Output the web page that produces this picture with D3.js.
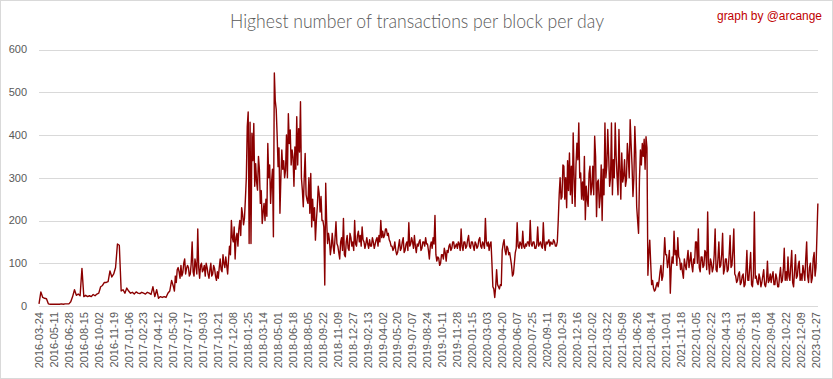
<!DOCTYPE html>
<html><head><meta charset="utf-8">
<script src="https://cdn.jsdelivr.net/npm/d3@7"></script>
<style>body{margin:0;background:#fff}svg{display:block}</style>
</head><body><svg id="c" width="833" height="379"></svg>
<script>
const title = "Highest number of transactions per block per day";
const credit = "graph by @arcange";
const yTicks = [0, 100, 200, 300, 400, 500, 600];
const tickLabels = ["2016-03-24","2016-05-11","2016-06-28","2016-08-15","2016-10-02","2016-11-19","2017-01-06","2017-02-23","2017-04-12","2017-05-30","2017-07-17","2017-09-03","2017-10-21","2017-12-08","2018-01-25","2018-03-14","2018-05-01","2018-06-18","2018-08-05","2018-09-22","2018-11-09","2018-12-27","2019-02-13","2019-04-02","2019-05-20","2019-07-07","2019-08-24","2019-10-11","2019-11-28","2020-01-15","2020-03-03","2020-04-20","2020-06-07","2020-07-25","2020-09-11","2020-10-29","2020-12-16","2021-02-02","2021-03-22","2021-05-09","2021-06-26","2021-08-14","2021-10-01","2021-11-18","2022-01-05","2022-02-22","2022-04-13","2022-05-31","2022-07-18","2022-09-04","2022-10-22","2022-12-09","2023-01-27"];
// readings, one group per interval between consecutive tick labels (evenly spread inside it)
const values = [
[5,33,20,18,17,5,4,4],
[4,4,4,4,5,4,5,5],
[5,10,22,38,25,28,24,88],
[22,25,22,24,22,27,24,28],
[30,45,48,55,55,57,82,68],
[75,90,145,142,35,38,30,42],
[35,30,32,28,33,30,29,32],
[30,28,32,30,27,45,22,38],
[18,22,20,22,20,30,35,60],
[45,35,70,55,85,90,80,65,95,70,78,100,110,75,88,95],
[90,70,75,100,150,80,70,110,95,75,180,90,65,95,100,80],
[85,95,70,100,90,75,65,85,100,70,75,95,88,70,60,80],
[65,90,110,85,80,120,100,90,115,95,75,110,140,120,200,160],
[150,185,110,160,170,140,180,200,165,230,215,190,205,250,300,420],
[454,146,430,146,404,340,427,280,333,290,271,350,320,240,270,193],
[220,240,200,250,210,380,300,330,240,290,320,162,545,480,460,400],
[326,370,217,300,365,320,340,300,318,400,300,450,380,412,330,365],
[349,280,372,320,443,330,415,360,478,300,271,232,300,357,260,248],
[240,300,217,310,185,250,200,230,154,200,232,280,263,220,256,200],
[200,185,49,287,200,146,170,154,120,139,170,140,123,160,197,146],
[140,125,110,150,160,130,205,120,115,150,165,135,130,170,160,140],
[150,130,200,145,140,165,175,150,165,140,185,155,150,135,145,160],
[145,135,155,140,140,160,150,135,145,155,160,140,165,150,200,160],
[175,160,165,180,180,165,170,155,150,140,140,130,135,150,130,120],
[125,140,155,130,135,150,160,125,130,145,150,130,195,140,145,160],
[150,135,165,140,125,145,140,150,155,130,135,150,150,140,160,145],
[145,130,110,140,150,135,160,145,212,120,105,115,112,95,100,120],
[120,110,135,125,105,130,125,140,145,130,135,150,150,135,140,145],
[135,150,145,130,180,140,130,150,150,135,140,155,165,140,135,150],
[150,140,130,150,145,135,140,155,160,140,135,150,145,135,205,150],
[140,150,130,145,150,100,45,40,20,45,85,50,45,40,50,48],
[130,145,155,130,120,140,135,120,125,110,95,70,75,100,125,135],
[195,140,135,150,145,135,175,140,135,145,140,150,150,140,200,145],
[140,150,150,135,135,145,185,140,145,150,140,135,195,145,130,150],
[145,150,155,140,150,145,145,155,150,140,140,150,200,260,300,250],
[255,330,327,250,300,230,340,270,358,260,327,240,405,300,233,330],
[381,342,428,300,311,250,290,248,350,202,280,250,233,310,327,260],
[280,327,260,397,350,209,290,295,230,256,330,200,320,260,428,300],
[327,413,350,280,300,428,260,342,300,428,350,303,260,413,320,250],
[358,290,303,342,280,295,380,350,300,436,380,330,256,300,420,360],
[232,200,170,300,365,330,380,350,390,320,396,370,72,123,154,100],
[50,60,42,35,38,48,55,45,60,80,95,60,70,110,160,120],
[120,90,105,130,30,90,115,100,175,120,130,95,160,115,110,85],
[100,80,65,110,95,85,110,130,90,105,125,95,80,110,100,150],
[150,100,180,90,80,115,115,90,95,130,125,85,220,100,75,110],
[100,80,90,120,180,85,80,110,150,90,95,120,170,75,85,110],
[110,80,85,120,165,90,95,130,180,75,70,55,60,75,80,50],
[55,70,75,45,50,80,130,60,60,90,125,50,45,75,220,65],
[70,55,50,75,65,45,55,70,85,50,45,60,105,55,60,75],
[55,70,80,50,50,75,65,45,45,70,90,55,60,85,135,60],
[80,60,115,70,60,95,130,55,45,80,120,65,70,95,105,60],
[75,60,95,80,60,110,150,70,55,90,100,55,65,110,125,70],
[90,240]
];

const points = [];
values.forEach((g, k) => {
  const step = 1 / Math.max(g.length, 8);
  g.forEach((v, j) => points.push({ p: k + j * step, v }));
});

const svg = d3.select("#c");
const font = "'Liberation Sans', Arial, sans-serif";
svg.append("rect").attr("x",0.5).attr("y",0.5).attr("width",832).attr("height",378)
  .attr("fill","#fff").attr("stroke","#d9d9d9");

const x = d3.scaleLinear().domain([0, tickLabels.length - 1]).range([39, 816]);
const y = d3.scaleLinear().domain([0, 600]).range([306, 49.5]);

svg.append("g").selectAll("line").data(yTicks).join("line")
  .attr("x1", 39).attr("x2", 818)
  .attr("y1", d => Math.round(y(d)) + 0.5).attr("y2", d => Math.round(y(d)) + 0.5)
  .attr("stroke", "#d9d9d9").attr("stroke-width", 1);

svg.append("g").selectAll("text").data(yTicks).join("text")
  .attr("x", 27).attr("y", d => y(d)).attr("dy", "0.35em")
  .attr("text-anchor", "end").attr("font-family", font).attr("font-size", 11)
  .attr("fill", "#595959").text(d => d);

svg.append("g").selectAll("text").data(tickLabels).join("text")
  .attr("transform", (d, i) => `translate(${x(i)},312) rotate(-90)`)
  .attr("dy", "0.35em").attr("text-anchor", "end")
  .attr("font-family", font).attr("font-size", 11).attr("fill", "#595959").text(d => d);

svg.append("path").datum(points)
  .attr("d", d3.line().x(d => x(d.p)).y(d => y(d.v)))
  .attr("fill", "none").attr("stroke", "#8b0000").attr("stroke-width", 1.4)
  .attr("stroke-linejoin", "round");

svg.append("text").attr("x", 417).attr("y", 28).attr("text-anchor", "middle")
  .attr("font-family", "Lato, 'Liberation Sans', sans-serif").attr("font-weight", 300)
  .attr("font-size", 19).attr("fill", "#595959")
  .attr("textLength", 374).attr("lengthAdjust", "spacingAndGlyphs").text(title);
svg.append("text").attr("x", 822).attr("y", 20).attr("text-anchor", "end")
  .attr("font-family", font).attr("font-size", 12).attr("fill", "#c00000")
  .attr("textLength", 105).attr("lengthAdjust", "spacingAndGlyphs").text(credit);
</script></body></html>
